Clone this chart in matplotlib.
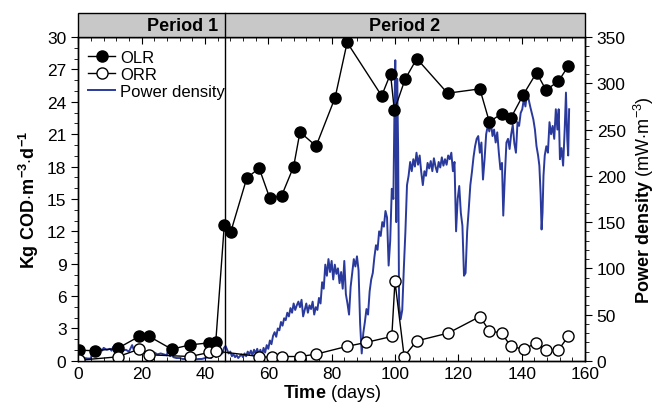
import numpy as np
import matplotlib
matplotlib.use('Agg')
import matplotlib.pyplot as plt
from matplotlib.ticker import MultipleLocator
from matplotlib.patches import Rectangle
from matplotlib.lines import Line2D

plt.rcParams['font.family'] = ['Liberation Sans', 'DejaVu Sans']
plt.rcParams['mathtext.fontset'] = 'custom'
plt.rcParams['mathtext.rm'] = 'Liberation Sans'
plt.rcParams['mathtext.bf'] = 'Liberation Sans:bold'

# organic loading rate (filled) and removal rate (open), kg COD/m3/d
olr_days = [0.3, 5.3, 12.4, 19.2, 22.4, 29.5, 35.3, 41.4, 43.4, 46.1, 48.1, 53.2,
            57.1, 60.5, 64.2, 68.0, 70.0, 75.1, 81.1, 84.9, 95.8, 98.6, 99.8,
            103.2, 106.9, 116.6, 126.8, 129.8, 133.7, 136.6, 140.5, 144.7, 147.7,
            151.6, 154.7]
olr = [0.99, 0.93, 1.15, 2.26, 2.26, 1.08, 1.48, 1.67, 1.71, 12.58, 11.9, 16.93,
       17.86, 15.05, 15.3, 18.0, 21.2, 19.9, 24.4, 29.5, 24.56, 26.6, 23.2,
       26.1, 28.0, 24.8, 25.2, 22.15, 22.9, 22.5, 24.65, 26.7, 25.1, 25.9, 27.3]

orr_days = [0.3, 12.4, 19.2, 22.4, 35.3, 41.4, 43.4, 57.2, 61.1, 64.2, 70.0, 75.1,
            84.7, 90.8, 99.0, 100.0, 102.9, 106.9, 116.8, 126.8, 129.8, 133.7,
            136.6, 140.7, 144.5, 147.7, 151.6, 154.7]
orr = [0.06, 0.37, 1.08, 0.56, 0.4, 0.78, 0.9, 0.4, 0.31, 0.4, 0.4, 0.62,
       1.33, 1.7, 2.26, 7.36, 0.4, 1.85, 2.57, 4.1, 2.78, 2.57,
       1.33, 1.08, 1.64, 0.99, 0.99, 2.26]

# power density, mW/m3
pd_days = [0, 1, 2, 3, 4, 4.5, 5, 5.5, 6, 7, 7.5, 8, 9, 10, 10.5, 11, 12, 13, 14, 15,
           16, 17, 17.5, 18, 19, 20, 21, 22, 23, 24, 25, 26, 27, 28, 28.5, 29, 29.5,
           30, 31, 32, 33, 34, 35, 36, 37, 38, 39, 40, 41, 42, 43, 43.5, 44, 45, 45.5,
           46, 46.5, 47, 47.5, 48, 48.5, 49, 49.5, 50, 50.5, 51, 51.5, 52, 52.5, 53,
           53.5, 54, 54.5, 55, 55.5, 56, 56.5, 57, 57.5, 58, 58.5, 59, 59.5, 60, 60.5,
           61, 61.5, 62, 62.5, 63, 63.5, 64, 64.5, 65, 65.5, 66, 66.5, 67, 67.5, 68,
           68.5, 69, 69.5, 70, 70.5, 71, 71.5, 72, 72.5, 73, 73.5, 74, 74.5, 75, 75.5,
           76, 76.5, 77, 77.5, 78, 78.5, 79, 79.5, 80, 80.5, 81, 81.5, 82, 82.5, 83,
           83.5, 84, 84.5, 85, 85.5, 86, 86.5, 87, 87.5, 88, 88.5, 89, 89.5, 90, 90.5,
           91, 91.5, 92, 92.5, 93, 93.5, 94, 94.5, 95, 95.5, 96, 96.5, 97, 97.5, 98,
           98.5, 99, 99.5, 99.8, 100.1, 100.4, 100.7, 101, 101.3, 101.8, 102.3, 102.8,
           103.3, 103.8, 104.3, 104.8, 105.3, 105.8, 106.3, 106.8, 107.3, 107.8,
           108.3, 108.8, 109.3, 109.8, 110.3, 110.8, 111.3, 111.8, 112.3, 112.8,
           113.3, 113.8, 114.3, 114.8, 115.3, 115.8, 116.3, 116.8, 117.3, 117.8,
           118.3, 118.8, 119.3, 119.8, 120.3, 120.8, 121.3, 121.8, 122.3, 122.8,
           123.3, 123.8, 124.3, 124.8, 125.3, 125.8, 126.3, 126.8, 127.3, 127.8,
           128.3, 128.8, 129.3, 129.8, 130.3, 130.8, 131.3, 131.8, 132.3, 132.8,
           133.3, 133.8, 134.2, 134.7, 135.2, 135.7, 136.2, 136.7, 137.2, 137.7,
           138.2, 138.7, 139.2, 139.7, 140.2, 140.7, 141.2, 141.7, 142.2, 142.7,
           143.2, 143.7, 144.2, 144.7, 145.2, 145.6, 146.0, 146.3, 146.6, 146.9,
           147.3, 147.8, 148.3, 148.8, 149.3, 149.8, 150.3, 150.8, 151.3, 151.7,
           152.1, 152.6, 153.1, 153.6, 154.0, 154.4, 154.7, 155.0]
pd_vals = [7, 4, 3, 2.5, 2.5, 12, 10, 14, 12, 13, 11, 14, 12, 13, 11, 15, 12, 13, 11, 12,
           10, 17, 12, 14, 10, 11, 9, 10, 8, 9, 7, 8, 7, 6, 16, 5, 14,
           4, 3, 3, 2, 2, 2, 2, 1.5, 2, 2, 3, 4, 3, 12, 4, 10, 13, 8,
           14, 16, 12, 8, 10, 5, 7, 4, 6, 3, 5, 7, 4, 8, 5,
           10, 7, 11, 6, 12, 8, 13, 7, 12, 6, 14, 9, 17, 13, 22,
           18, 27, 31, 26, 35, 33, 42, 38, 46, 44, 52, 48, 57, 52, 62,
           55, 60, 64, 58, 66, 48, 55, 62, 52, 60, 56, 64, 50, 58, 55,
           68, 62, 85, 78, 104, 92, 110, 96, 108, 88, 104, 94, 100, 84, 96,
           78, 108, 72, 62, 50, 80, 95, 110, 102, 113, 98, 40, 8, 30, 42,
           56, 50, 75, 88, 95, 112, 125, 120, 140, 135, 150, 145, 162, 155, 103,
           130, 186, 175, 260, 325, 150, 305, 230, 60, 45, 55, 100,
           140, 190, 200, 215, 205, 218, 210, 225, 212, 222,
           204, 190, 205, 200, 214, 208, 216, 205, 219, 210,
           204, 215, 209, 220, 211, 218, 212, 222, 218, 225,
           205, 215, 140, 175, 189, 160, 146, 92, 95, 140,
           164, 190, 204, 220, 232, 240, 243, 225, 236, 196,
           218, 245, 254, 248, 258, 243, 250, 236, 247, 225,
           207, 214, 157, 200, 236, 240, 229, 245, 255, 235,
           225, 258, 254, 268, 272, 283, 275, 290, 283, 275,
           268, 261, 250, 232, 222, 211, 180, 142, 160, 200,
           222, 232, 225, 258, 245, 254, 240, 272, 250, 272,
           218, 230, 211, 250, 290, 240, 222, 272]

period_split = 46.3

fig, ax = plt.subplots(figsize=(6.58, 4.14), dpi=100)
fig.subplots_adjust(left=0.119, right=0.889, bottom=0.126, top=0.908)
ax2 = ax.twinx()

blue = '#2a3a9c'
ax2.plot(pd_days, pd_vals, color=blue, lw=1.4)

ax.plot(olr_days, olr, '-o', color='black', lw=1.0, ms=8, mfc='black', mec='black')
ax.plot(orr_days, orr, '-o', color='black', lw=1.0, ms=8, mfc='white', mec='black',
        mew=1.0)
ax.set_zorder(ax2.get_zorder() + 1)
ax.patch.set_visible(False)

ax.set_xlim(0, 160)
ax.set_ylim(0, 30)
ax2.set_ylim(0, 350)
ax.xaxis.set_major_locator(MultipleLocator(20))
ax.xaxis.set_minor_locator(MultipleLocator(4))
ax.yaxis.set_major_locator(MultipleLocator(3))
ax.yaxis.set_minor_locator(MultipleLocator(1))
ax2.yaxis.set_major_locator(MultipleLocator(50))
ax2.yaxis.set_minor_locator(MultipleLocator(10))

ax.tick_params(axis='x', which='both', direction='in', top=True, labelsize=12.5)
ax.tick_params(axis='x', which='major', length=5)
ax.tick_params(axis='x', which='minor', length=3)
ax.tick_params(axis='y', which='major', direction='out', length=5, labelsize=12.5)
ax.tick_params(axis='y', which='minor', direction='out', length=3)
ax2.tick_params(axis='y', which='major', direction='out', length=5, labelsize=12.5)
ax2.tick_params(axis='y', which='minor', direction='out', length=3)
for a in (ax, ax2):
    for s in a.spines.values():
        s.set_linewidth(1.0)

ax.set_xlabel(r'$\mathbf{Time}$ (days)', fontsize=13, labelpad=1)
ax.set_ylabel(r'$\mathbf{Kg\ COD{\cdot}m^{-3}{\cdot}d^{-1}}$', fontsize=13, labelpad=4)
ax2.set_ylabel(r'$\mathbf{Power\ density}$ (mW${\cdot}$m$^{-3}$)', fontsize=13, labelpad=4)

# period header band
band_h = 0.074
ax.add_patch(Rectangle((0, 1), 1, band_h, transform=ax.transAxes, facecolor='#c8c8c8',
                       edgecolor='black', lw=1.0, clip_on=False, zorder=5))
trans = ax.get_xaxis_transform()
ax.plot([period_split, period_split], [0, 1 + band_h], color='black', lw=1.0,
        transform=trans, clip_on=False, zorder=6)
ax.text(period_split - 2, 1 + band_h / 2, 'Period 1', transform=trans, ha='right',
        va='center', fontsize=13, fontweight='bold', zorder=7)
ax.text((period_split + 160) / 2, 1 + band_h / 2, 'Period 2', transform=trans,
        ha='center', va='center', fontsize=13, fontweight='bold', zorder=7)

handles = [Line2D([], [], color='black', lw=1.0, marker='o', ms=8, mfc='black'),
           Line2D([], [], color='black', lw=1.0, marker='o', ms=8, mfc='white', mew=1.0),
           Line2D([], [], color=blue, lw=1.4)]
ax.legend(handles, ['OLR', 'ORR', 'Power density'], loc='upper left', frameon=False,
          fontsize=12, handlelength=1.6, handletextpad=0.3, labelspacing=0.1,
          borderaxespad=0.2, bbox_to_anchor=(0.0, 0.99))

fig.savefig('out.png', dpi=100)
